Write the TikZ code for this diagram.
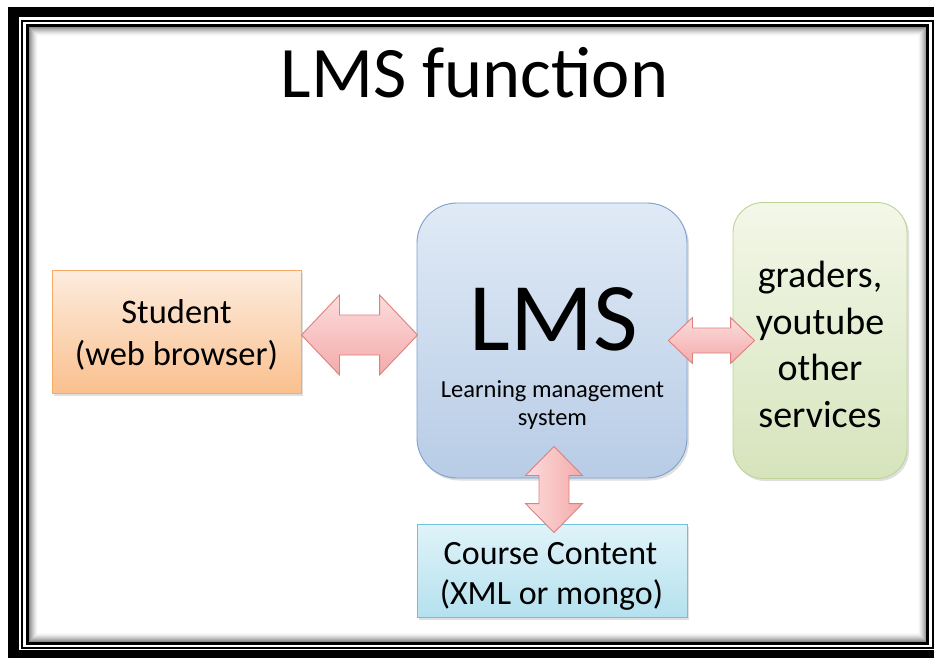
\documentclass[tikz,border=0pt]{standalone}
\usepackage{fontspec}
\setmainfont{Carlito}
\usetikzlibrary{shadows,calc}
\definecolor{stuTop}{RGB}{253,236,222}
\definecolor{stuBot}{RGB}{250,192,143}
\definecolor{stuLine}{RGB}{247,170,100}
\definecolor{lmsTop}{RGB}{224,234,246}
\definecolor{lmsBot}{RGB}{184,204,230}
\definecolor{lmsLine}{RGB}{125,160,205}
\definecolor{grTop}{RGB}{243,247,232}
\definecolor{grBot}{RGB}{214,228,188}
\definecolor{grLine}{RGB}{190,212,150}
\definecolor{ccTop}{RGB}{224,243,249}
\definecolor{ccBot}{RGB}{180,225,238}
\definecolor{ccLine}{RGB}{110,195,218}
\definecolor{arTop}{RGB}{252,220,220}
\definecolor{arBot}{RGB}{244,170,170}
\definecolor{arLine}{RGB}{222,128,126}
\newcommand\hdblarrow[6]{%
  \path[#1] let \p1=(#2), \p2=(#3) in
   (\x1,\y1) -- (\x1+#4pt,\y1+#5pt) -- (\x1+#4pt,\y1+#6pt) -- (\x2-#4pt,\y1+#6pt)
   -- (\x2-#4pt,\y1+#5pt) -- (\x2,\y1) -- (\x2-#4pt,\y1-#5pt) -- (\x2-#4pt,\y1-#6pt)
   -- (\x1+#4pt,\y1-#6pt) -- (\x1+#4pt,\y1-#5pt) -- cycle;}
\newcommand\vdblarrow[6]{%
  \path[#1] let \p1=(#2), \p2=(#3) in
   (\x1,\y1) -- (\x1+#5pt,\y1-#4pt) -- (\x1+#6pt,\y1-#4pt) -- (\x1+#6pt,\y2+#4pt)
   -- (\x1+#5pt,\y2+#4pt) -- (\x1,\y2) -- (\x1-#5pt,\y2+#4pt) -- (\x1-#6pt,\y2+#4pt)
   -- (\x1-#6pt,\y1-#4pt) -- (\x1-#5pt,\y1-#4pt) -- cycle;}
\begin{document}
\begin{tikzpicture}[x=1pt,y=-1pt,
  box/.style={draw, line width=0.9pt, inner sep=0pt,
    drop shadow={shadow xshift=2pt,shadow yshift=-2.5pt,opacity=0.25}},
  txt/.style={anchor=base, inner sep=0pt, text=black},
  blockarrow/.style={draw=arLine, line width=0.9pt, line join=miter},
  frameline/.style={draw=black}
]
\useasboundingbox (0,0) rectangle (934,657);
\clip (0,0) rectangle (934,657);
% frame
\fill[white] (0,0) rectangle (934,657);
\fill[black] (8,7) rectangle (960,680);
\fill[white] (19,17) rectangle (960,650);
\draw[frameline, line width=2pt] (22,20.5) rectangle (932.5,647.8);
\draw[frameline, line width=3pt] (27,25.5) rectangle (927.5,643.5);
\foreach \i [evaluate=\i as \op using 0.45*(1-\i/9)^1.5] in {0,...,8}{
  \draw[black, opacity=\op, line width=1pt] (29+\i,27.5+\i) rectangle (926-\i,641.5-\i);
}
% boxes
\node[box, draw=stuLine, top color=stuTop, bottom color=stuBot,
  minimum width=249pt, minimum height=123pt] (stu) at (176.5,331.5) {};
\node[box, rounded corners=40pt, draw=lmsLine, top color=lmsTop, bottom color=lmsBot,
  minimum width=270pt, minimum height=275pt] (lms) at (552,340.5) {};
\node[box, rounded corners=30pt, draw=grLine, top color=grTop, bottom color=grBot,
  minimum width=174pt, minimum height=276pt] (gr) at (820,340.5) {};
\node[box, draw=ccLine, top color=ccTop, bottom color=ccBot,
  minimum width=270pt, minimum height=93pt] (cc) at (552,570.5) {};
% arrow end points
\coordinate (a1l) at ($(stu.east)+(0,3.5)$);
\coordinate (a1r) at ($(lms.west)+(1,-5.5)$);
\coordinate (a2l) at ($(lms.east)+(-19,0)$);
\coordinate (a2r) at ($(gr.west)+(22,0)$);
\coordinate (a3t) at ($(lms.south)+(2,-32)$);
\coordinate (a3b) at ($(cc.north)+(2,9)$);
\hdblarrow{blockarrow, top color=arTop, bottom color=arBot}{a1l}{a1r}{38}{40}{20}
\hdblarrow{blockarrow, top color=arTop, bottom color=arBot}{a2l}{a2r}{24}{23}{12.5}
\vdblarrow{blockarrow, left color=arTop, right color=arBot}{a3t}{a3b}{29}{28.5}{15}
% texts
\node[txt, font=\fontsize{72.5}{80}\selectfont] (title) at (474.5,97) {LMS function};
\node[txt, font=\fontsize{34.5}{40}\selectfont] (stu1) at (176.5,323) {Student};
\node[txt, font=\fontsize{34.5}{40}\selectfont] (stu2) at (176.5,365) {(web browser)};
\node[txt, font=\fontsize{97}{100}\selectfont] (lms1) at (553.5,350) {LMS};
\node[txt, font=\fontsize{24.5}{28}\selectfont] (lms2) at (552.5,397) {Learning management};
\node[txt, font=\fontsize{24.5}{28}\selectfont] (lms3) at (552.5,425) {system};
\node[txt, font=\fontsize{38}{46}\selectfont] (gr1) at (820,287) {graders,};
\node[txt, font=\fontsize{38}{46}\selectfont] (gr2) at (820,334) {youtube};
\node[txt, font=\fontsize{38}{46}\selectfont] (gr3) at (820,380) {other};
\node[txt, font=\fontsize{38}{46}\selectfont] (gr4) at (820,427) {services};
\node[txt, font=\fontsize{34}{40}\selectfont] (cc1) at (550.5,564.5) {Course Content};
\node[txt, font=\fontsize{34}{40}\selectfont] (cc2) at (551.5,604) {(XML or mongo)};
\end{tikzpicture}
\end{document}
